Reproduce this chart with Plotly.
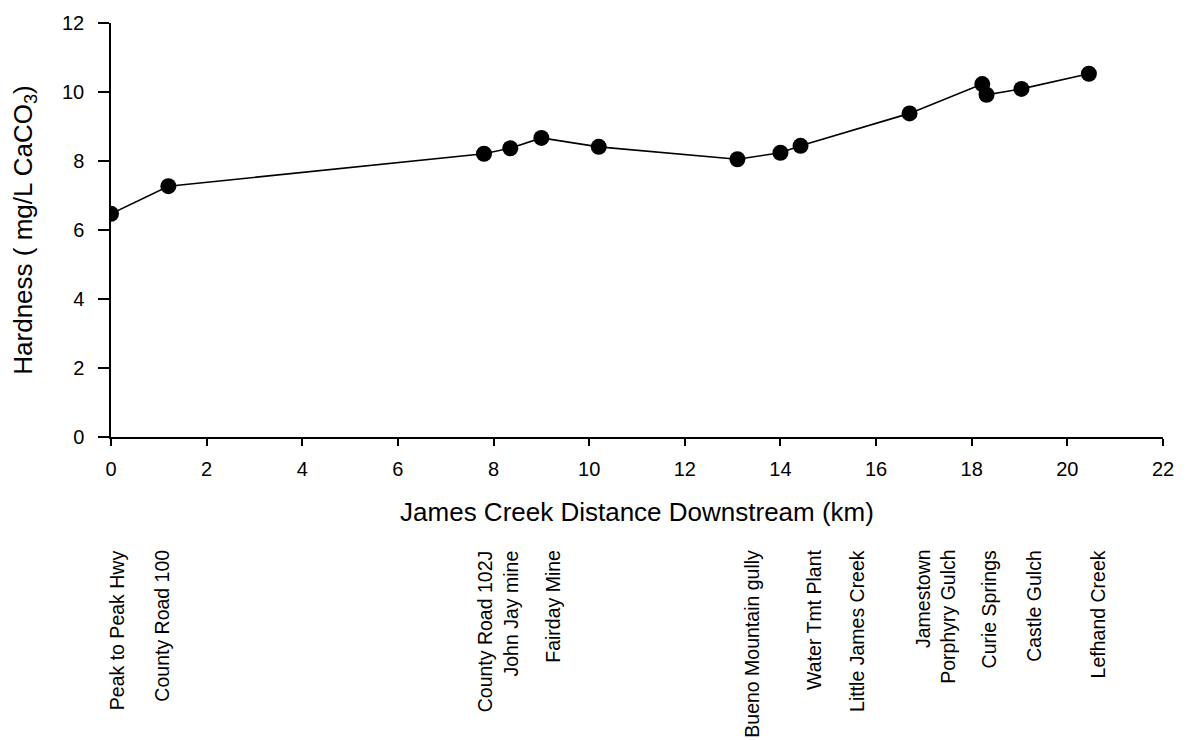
import plotly.graph_objects as go

distance_km = [0, 1.2, 7.8, 8.35, 9.0, 10.2, 13.1, 14.0, 14.42, 16.7, 18.22, 18.31, 19.04, 20.45]
hardness = [6.47, 7.27, 8.21, 8.37, 8.67, 8.41, 8.05, 8.24, 8.44, 9.38, 10.23, 9.92, 10.09, 10.53]

site_names = ["Peak to Peak Hwy", "County Road 100", "County Road 102J<br>John Jay mine",
              "Fairday Mine", "Bueno Mountain gully", "Water Tmt Plant", "Little James Creek",
              "Jamestown<br>Porphyry Gulch", "Curie Springs", "Castle Gulch", "Lefhand Creek"]
site_km = [0.13, 1.06, 8.1, 9.25, 13.4, 14.7, 15.6, 17.25, 18.35, 19.3, 20.65]

x_ticks = list(range(0, 23, 2))
y_ticks = list(range(0, 13, 2))

FONT = "Liberation Sans, Arial, sans-serif"

fig = go.Figure()
fig.add_trace(go.Scatter(
    x=distance_km, y=hardness, mode="lines+markers",
    line=dict(color="black", width=1.6),
    marker=dict(color="black", size=16),
    showlegend=False, hoverinfo="skip"))

for name, km in zip(site_names, site_km):
    fig.add_annotation(x=km, xref="x", y=-0.268, yref="paper", text=name,
                       textangle=-90, showarrow=False, xanchor="center", yanchor="top",
                       align="right", font=dict(family=FONT, size=19.5, color="black"))

fig.update_layout(
    width=1186, height=740,
    margin=dict(l=111, r=19, t=16, b=303),
    plot_bgcolor="white", paper_bgcolor="white",
    font=dict(family=FONT, size=20, color="black"),
)
fig.update_xaxes(range=[0, 22], tickvals=x_ticks, showgrid=False, zeroline=False,
                 showline=True, linecolor="black", linewidth=1.5,
                 ticks="outside", ticklen=7, tickwidth=1.5, tickcolor="black",
                 ticklabelstandoff=6,
                 tickfont=dict(family=FONT, size=20, color="black"),
                 title=dict(text="James Creek Distance Downstream (km)",
                            font=dict(family=FONT, size=26, color="black"), standoff=24))
fig.update_yaxes(range=[0, 12], tickvals=y_ticks, showgrid=False, zeroline=False,
                 showline=True, linecolor="black", linewidth=1.5,
                 ticks="outside", ticklen=11, tickwidth=1.5, tickcolor="black",
                 ticklabelstandoff=10,
                 tickfont=dict(family=FONT, size=20, color="black"),
                 title=dict(text="Hardness ( mg/L CaCO<sub>3</sub>)",
                            font=dict(family=FONT, size=26, color="black"), standoff=22))

fig.write_html("out.html")
